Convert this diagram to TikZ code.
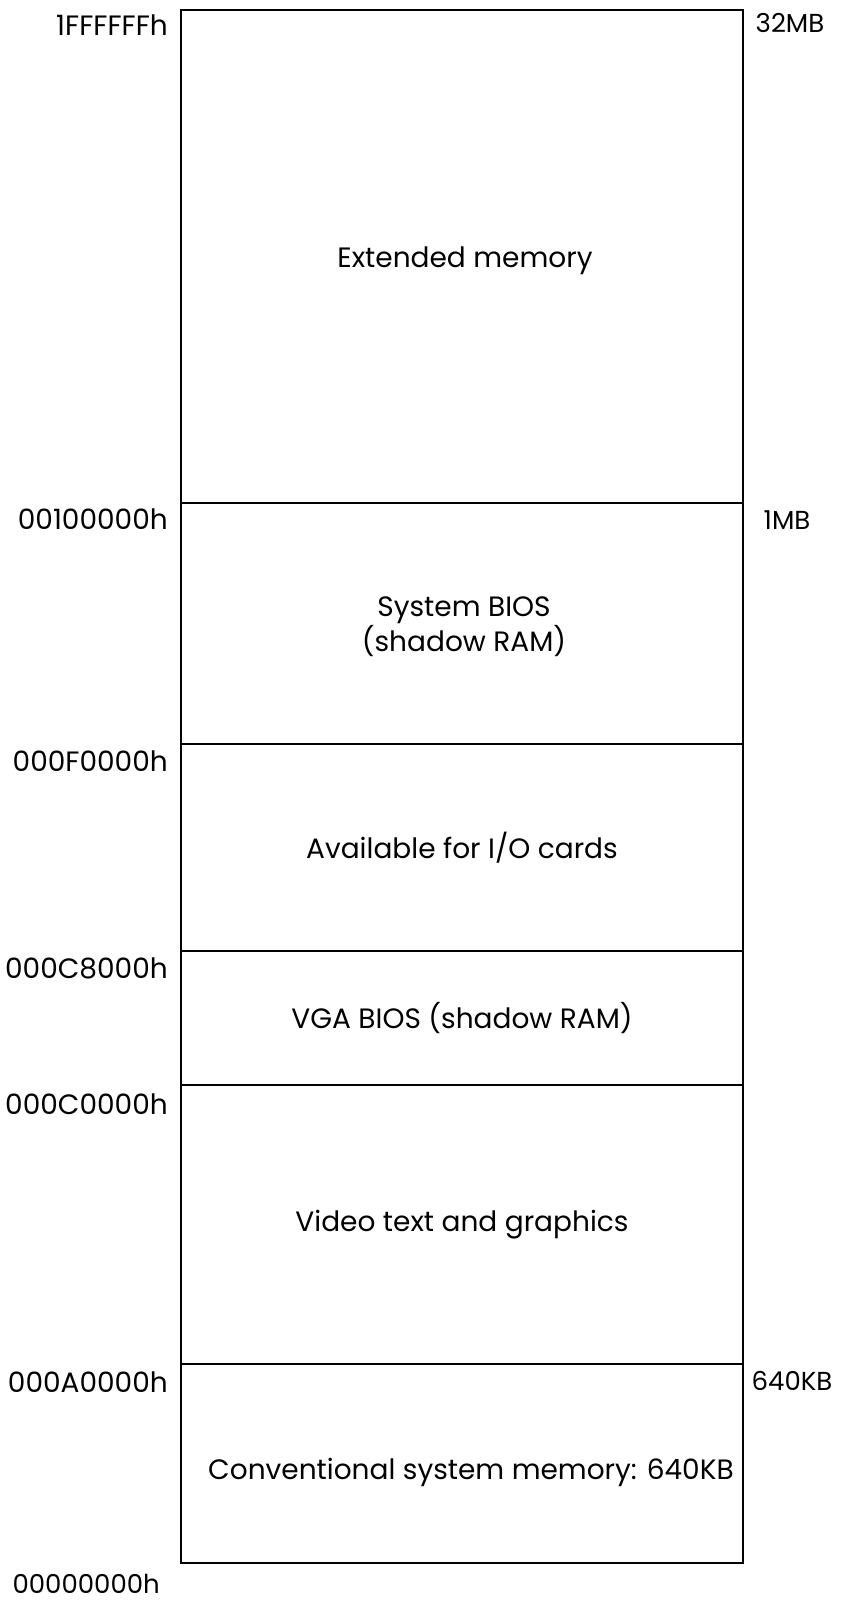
\documentclass[tikz,border=0pt]{standalone}
\usepackage{fontspec}
\setmainfont{Poppins}
\begin{document}
\begin{tikzpicture}[x=1pt,y=-1pt,
  region/.style={draw=black, line width=1.3pt, minimum width=562pt, inner sep=0pt, align=center, font=\fontsize{28}{35}\selectfont},
  inner/.style={inner sep=0pt, align=center, font=\fontsize{28}{35}\selectfont},
  addr/.style={anchor=east, inner sep=0pt, font=\fontsize{28}{30}\selectfont},
  size/.style={anchor=center, inner sep=0pt, font=\fontsize{26}{28}\selectfont}]
\useasboundingbox (0,0) rectangle (843,1601);
\node[region, minimum height=493pt] (ext) at (462,256.5) {};
\node[inner] (extt) at (465,261) {Extended memory};
\node[region, minimum height=241pt] (sbios) at (462,623.5) {};
\node[inner] (sbiost) at (464,627) {System BIOS\\(shadow RAM)};
\node[region, minimum height=207pt] (io) at (462,847.5) {Available for I/O cards};
\node[region, minimum height=134pt] (vga) at (462,1018) {VGA BIOS (shadow RAM)};
\node[region, minimum height=279pt] (video) at (462,1224.5) {Video text and graphics};
\node[region, minimum height=199pt] (conv) at (462,1463.5) {};
\node[inner] (convt) at (471,1472) {Conventional system memory: 640KB};
\node[addr] (a1) at (168,25) {1FFFFFFh};
\node[addr] (a2) at (168,519) {00100000h};
\node[addr] (a3) at (168,761) {000F0000h};
\node[addr] (a4) at (168,968) {000C8000h};
\node[addr] (a5) at (168,1104) {000C0000h};
\node[addr] (a6) at (168,1382) {000A0000h};
\node[addr, font=\fontsize{26}{28}\selectfont] (a7) at (160,1584) {00000000h};
\node[size] (s1) at (790,23) {32MB};
\node[size] (s2) at (787,520) {1MB};
\node[size] (s3) at (792,1381) {640KB};
\end{tikzpicture}
\end{document}
